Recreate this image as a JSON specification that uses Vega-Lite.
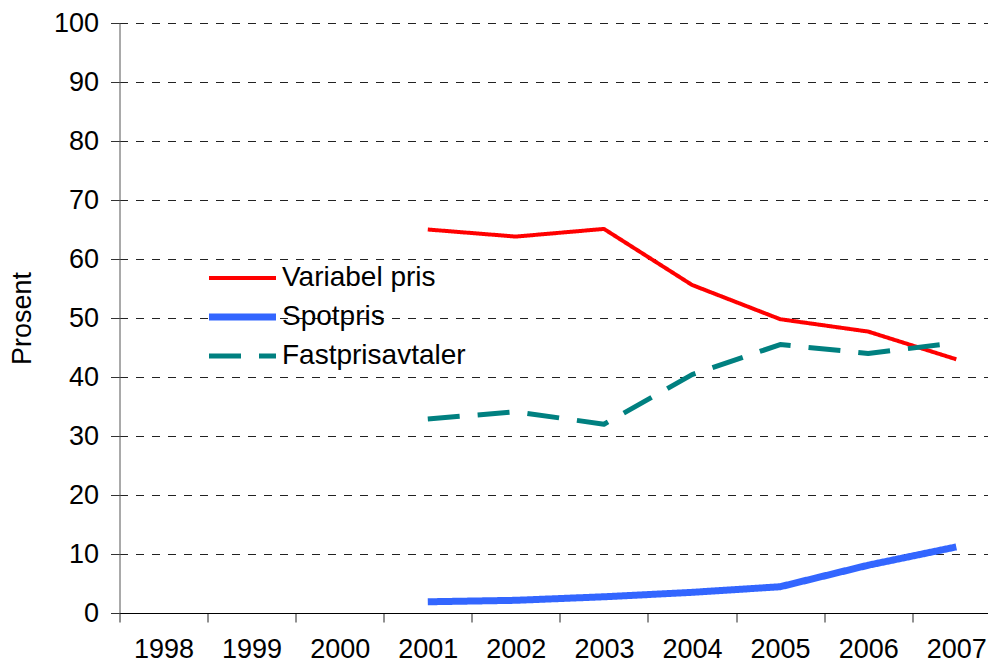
{
  "$schema": "https://vega.github.io/schema/vega-lite/v6.json",
  "autosize": "none",
  "padding": {"left": 119.5, "top": 23, "right": 0, "bottom": 52},
  "width": 868.5,
  "height": 590,
  "background": "white",
  "config": {
    "font": "Liberation Sans",
    "view": {"stroke": null},
    "axis": {"labelFont": "Liberation Sans", "titleFont": "Liberation Sans", "labelColor": "black", "titleColor": "black"},
    "legend": {"labelFont": "Liberation Sans"}
  },
  "data": {
    "values": [
      {"year": 2001, "series": "Variabel pris", "value": 65.0},
      {"year": 2002, "series": "Variabel pris", "value": 63.8},
      {"year": 2003, "series": "Variabel pris", "value": 65.1},
      {"year": 2004, "series": "Variabel pris", "value": 55.6},
      {"year": 2005, "series": "Variabel pris", "value": 49.8},
      {"year": 2006, "series": "Variabel pris", "value": 47.7},
      {"year": 2007, "series": "Variabel pris", "value": 43.0},
      {"year": 2001, "series": "Spotpris", "value": 1.9},
      {"year": 2002, "series": "Spotpris", "value": 2.15},
      {"year": 2003, "series": "Spotpris", "value": 2.75},
      {"year": 2004, "series": "Spotpris", "value": 3.5},
      {"year": 2005, "series": "Spotpris", "value": 4.45},
      {"year": 2006, "series": "Spotpris", "value": 8.1},
      {"year": 2007, "series": "Spotpris", "value": 11.2},
      {"year": 2001, "series": "Fastprisavtaler", "value": 32.9},
      {"year": 2002, "series": "Fastprisavtaler", "value": 34.1},
      {"year": 2003, "series": "Fastprisavtaler", "value": 32.0},
      {"year": 2004, "series": "Fastprisavtaler", "value": 40.4},
      {"year": 2005, "series": "Fastprisavtaler", "value": 45.5},
      {"year": 2006, "series": "Fastprisavtaler", "value": 44.0},
      {"year": 2007, "series": "Fastprisavtaler", "value": 45.8}
    ]
  },
  "mark": {"type": "line", "strokeCap": "butt", "strokeJoin": "round"},
  "encoding": {
    "x": {
      "field": "year",
      "type": "quantitative",
      "scale": {"domain": [1997.5, 2007.36], "nice": false, "zero": false},
      "axis": {
        "title": null,
        "values": [1997.5, 1998.5, 1999.5, 2000.5, 2001.5, 2002.5, 2003.5, 2004.5, 2005.5, 2006.5],
        "labelExpr": "format(datum.value + 0.5, 'd')",
        "labelOffset": 44,
        "labelFlush": false,
        "labelOverlap": false,
        "labelFontSize": 27,
        "labelPadding": 14,
        "tickSize": 9,
        "tickColor": "#222",
        "domainColor": "black",
        "domainWidth": 1,
        "grid": false
      }
    },
    "y": {
      "field": "value",
      "type": "quantitative",
      "scale": {"domain": [0, 100], "nice": false},
      "axis": {
        "title": "Prosent",
        "titleFontSize": 27,
        "titleFontWeight": "normal",
        "titlePadding": 17,
        "values": [0, 10, 20, 30, 40, 50, 60, 70, 80, 90, 100],
        "labelFontSize": 27,
        "labelPadding": 12,
        "tickSize": 9,
        "tickColor": "#333",
        "domainColor": "#555",
        "grid": true,
        "gridColor": "#222",
        "gridDash": [8, 8],
        "gridWidth": 1,
        "gridOpacity": 1
      }
    },
    "color": {
      "field": "series",
      "type": "nominal",
      "sort": ["Variabel pris", "Spotpris", "Fastprisavtaler"],
      "scale": {"domain": ["Variabel pris", "Spotpris", "Fastprisavtaler"], "range": ["#FF0000", "#3366FF", "#008080"]},
      "legend": {
        "title": null,
        "orient": "none",
        "legendX": 109,
        "legendY": 241,
        "symbolType": "M-3.35,0H3.35",
        "symbolSize": 400,
        "labelFontSize": 28,
        "labelOffset": 25.5,
        "labelLimit": 400,
        "rowPadding": 11,
        "encoding": {
          "symbols": {
            "strokeWidth": {"value": {"expr": "datum.value === 'Spotpris' ? 7 : datum.value === 'Fastprisavtaler' ? 5 : 4"}}
          }
        }
      }
    },
    "strokeDash": {
      "field": "series",
      "type": "nominal",
      "sort": ["Variabel pris", "Spotpris", "Fastprisavtaler"],
      "scale": {"domain": ["Variabel pris", "Spotpris", "Fastprisavtaler"], "range": [[1, 0], [1, 0], [32, 18]]},
      "legend": null
    },
    "strokeWidth": {
      "field": "series",
      "type": "nominal",
      "sort": ["Variabel pris", "Spotpris", "Fastprisavtaler"],
      "scale": {"type": "ordinal", "domain": ["Variabel pris", "Spotpris", "Fastprisavtaler"], "range": [4, 7, 5]}
    }
  }
}
